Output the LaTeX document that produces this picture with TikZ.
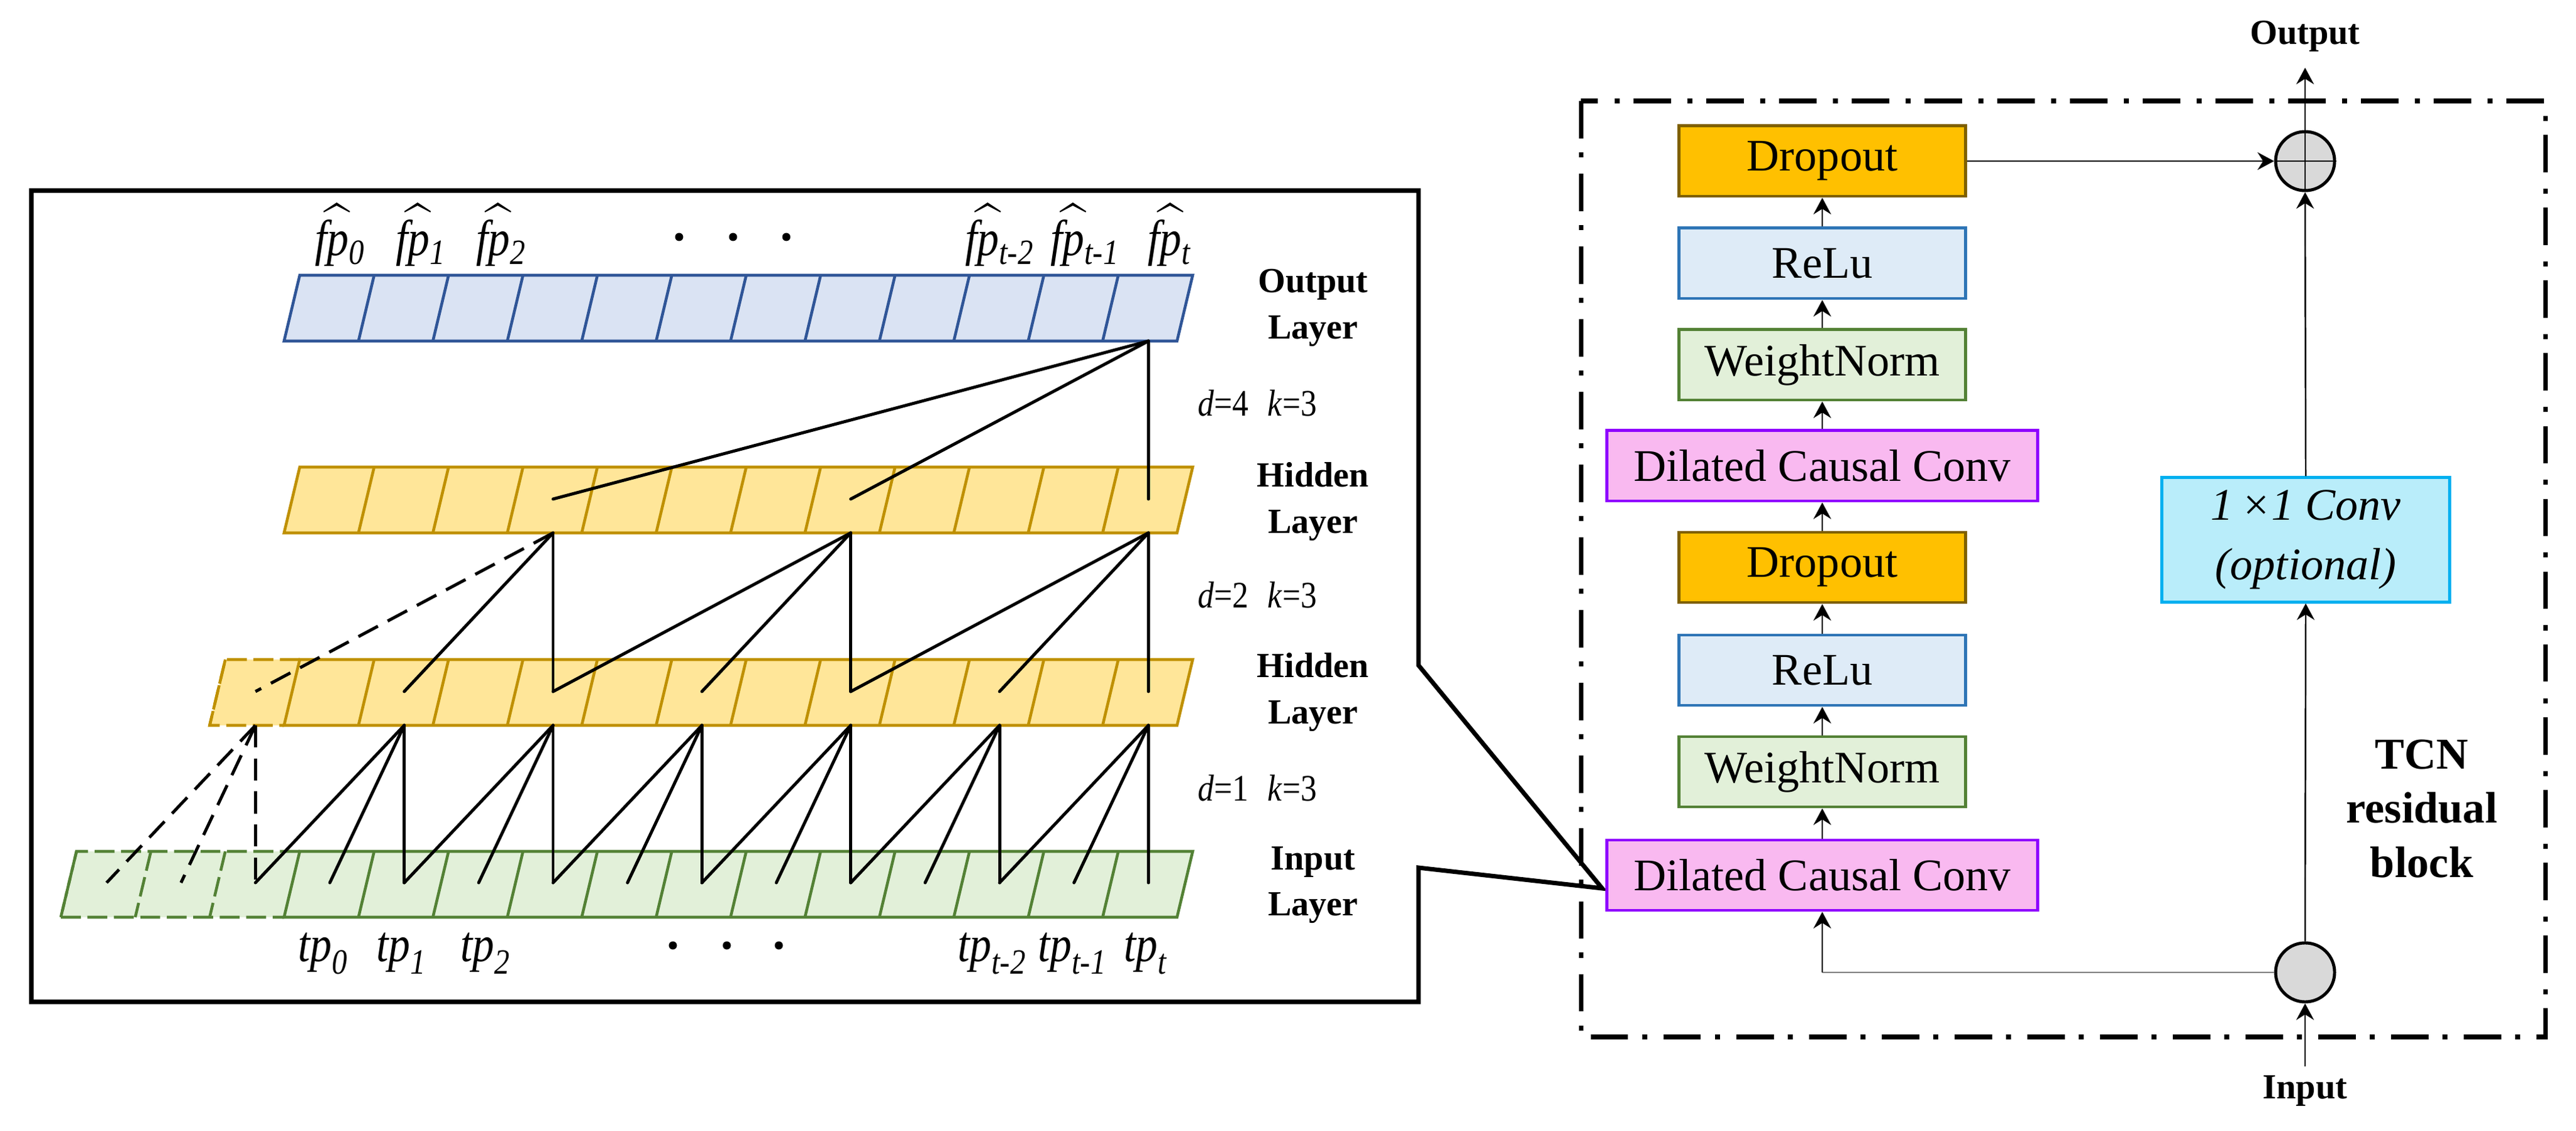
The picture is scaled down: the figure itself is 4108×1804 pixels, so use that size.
\documentclass[tikz,border=0pt]{standalone}
\usepackage{amsmath}
\usepackage{fontspec}
\setmainfont{Liberation Serif}
\usetikzlibrary{arrows.meta,calc}
\definecolor{outfill}{HTML}{DAE3F3}
\definecolor{outdraw}{HTML}{2F5597}
\definecolor{hidfill}{HTML}{FFE699}
\definecolor{hiddraw}{HTML}{BF9000}
\definecolor{infill}{HTML}{E2F0D9}
\definecolor{indraw}{HTML}{538135}
\definecolor{dropfill}{HTML}{FFC000}
\definecolor{dropdraw}{HTML}{7F6000}
\definecolor{relufill}{HTML}{DEEBF7}
\definecolor{reludraw}{HTML}{2E75B6}
\definecolor{wnfill}{HTML}{E2F0D9}
\definecolor{wndraw}{HTML}{538135}
\definecolor{dccfill}{HTML}{F9B9F0}
\definecolor{dccdraw}{HTML}{8F00FF}
\definecolor{convfill}{HTML}{B9EDFA}
\definecolor{convdraw}{HTML}{00B0F0}
\definecolor{circfill}{HTML}{D9D9D9}
\newcommand{\drawbar}[4]{%
  \filldraw[fill=#3,draw=#4,line width=1.3pt,line join=miter] (478,#1) -- (1902,#1) -- (1877,#2) -- (453,#2) -- cycle;
  \foreach \i in {1,...,11}{\draw[#4,line width=1.3pt] ({478+118.67*\i},#1) -- ({453+118.67*\i},#2);}%
}
\newcommand{\padcells}[5]{%
  \fill[#3] ({478-118.67*#5},#1) -- (478,#1) -- (453,#2) -- ({453-118.67*#5},#2) -- cycle;
  \draw[#4,line width=1.3pt,padline] (478,#1) -- ({478-118.67*#5},#1) -- ({453-118.67*#5},#2) -- (453,#2);
  \foreach \j in {1,...,#5}{\draw[#4,line width=1.3pt,padline] ({478-118.67*\j},#1) -- ({453-118.67*\j},#2);}%
}
\newcommand{\narrow}[1]{\scalebox{0.86}[1]{#1}}
\newcommand{\fphat}[1]{\narrow{$\widehat{\textit{fp}\kern0.25em}\kern-0.25em{}_{\textit{#1}}$}}
\begin{document}
\begin{tikzpicture}[x=0.01cm,y=-0.01cm,
  padline/.style={dash pattern=on 9pt off 3pt},
  conn/.style={line width=1.4pt,line cap=round},
  dconn/.style={line width=1.4pt,dash pattern=on 10pt off 5pt},
  blk/.style={draw,line width=1.4pt,minimum height=1.12cm,inner sep=0pt,font=\fontsize{20.5}{24}\selectfont},
  smallblk/.style={blk,minimum width=4.56cm},
  wideblk/.style={blk,minimum width=6.87cm},
  arr/.style={line width=0.7pt,-{Stealth[length=7.5pt,width=8pt,inset=2.5pt]}},
  layerlbl/.style={font=\bfseries\fontsize{16}{20.8}\selectfont,align=center},
  dklbl/.style={font=\fontsize{17}{20}\selectfont},
  seqlbl/.style={font=\fontsize{23}{26}\selectfont,anchor=base,inner sep=0pt},
  sumc/.style={circle,draw,fill=circfill,line width=1.4pt,minimum size=0.94cm,inner sep=0pt},
  ]
\useasboundingbox (0,0) rectangle (4108,1804);

% ---------- left panel frame with callout ----------
\draw[line width=2pt,line join=miter] (50,304) -- (2262,304) -- (2262,1061) -- (2555,1417) -- (2262,1384) -- (2262,1598) -- (50,1598) -- cycle;

% ---------- layers ----------
\drawbar{439}{544}{outfill}{outdraw}
\drawbar{745}{850}{hidfill}{hiddraw}
\padcells{1052}{1157}{hidfill}{hiddraw}{1}
\drawbar{1052}{1157}{hidfill}{hiddraw}
\padcells{1358}{1463}{infill}{indraw}{3}
\drawbar{1358}{1463}{infill}{indraw}

% ---------- attach points ----------
\foreach \i in {-3,...,11}{
  \coordinate (inM\i) at ({526+118.67*\i},1408);
  \coordinate (h1M\i) at ({526+118.67*\i},1103);
  \coordinate (h1B\i) at ({526+118.67*\i},1157);
  \coordinate (h2M\i) at ({526+118.67*\i},796);
  \coordinate (h2B\i) at ({526+118.67*\i},850);
  \coordinate (outB\i) at ({526+118.67*\i},544);
}

% ---------- connections ----------
\foreach \j in {11,7,3}{\draw[conn] (outB11) -- (h2M\j);}
\foreach \c/\a/\b in {7/5/3,11/9/7}{
  \draw[conn] (h2B\c) -- (h1M\c);
  \draw[conn] (h2B\c) -- (h1M\a);
  \draw[conn] (h2B\c) -- (h1M\b);
}
\draw[conn] (h2B3) -- (h1M3);
\draw[conn] (h2B3) -- (h1M1);
\draw[dconn] (h2B3) -- (h1M-1);
\foreach \c/\a/\b in {1/0/-1,3/2/1,5/4/3,7/6/5,9/8/7,11/10/9}{
  \draw[conn] (h1B\c) -- (inM\c);
  \draw[conn] (h1B\c) -- (inM\a);
  \draw[conn] (h1B\c) -- (inM\b);
}
\foreach \j in {-1,-2,-3}{\draw[dconn] (h1B-1) -- (inM\j);}

% ---------- sequence labels ----------
\node[seqlbl] (fp0) at (542,408) {\fphat{0}};
\node[seqlbl] (fp1) at (671,408) {\fphat{1}};
\node[seqlbl] (fp2) at (799,408) {\fphat{2}};
\node[seqlbl] (fpt2) at (1594,408) {\fphat{t-2}};
\node[seqlbl] (fpt1) at (1730,408) {\fphat{t-1}};
\node[seqlbl] (fpt) at (1865,408) {\fphat{t}};
\node[seqlbl] (tp0) at (515,1533) {\narrow{$\textit{tp}_{\textit{0}}$}};
\node[seqlbl] (tp1) at (640,1533) {\narrow{$\textit{tp}_{\textit{1}}$}};
\node[seqlbl] (tp2) at (774,1533) {\narrow{$\textit{tp}_{\textit{2}}$}};
\node[seqlbl] (tpt2) at (1582,1533) {\narrow{$\textit{tp}_{\textit{t-2}}$}};
\node[seqlbl] (tpt1) at (1710,1533) {\narrow{$\textit{tp}_{\textit{t-1}}$}};
\node[seqlbl] (tpt) at (1827,1533) {\narrow{$\textit{tp}_{\textit{t}}$}};
\foreach \x in {1083,1169,1254}{\fill (\x,378) circle (0.065cm);}
\foreach \x in {1073,1159,1242}{\fill (\x,1508) circle (0.065cm);}

% ---------- layer labels ----------
\node[layerlbl] (lout) at (2094,491) {Output\\Layer};
\node[layerlbl] (lh2) at (2094,800) {Hidden\\Layer};
\node[layerlbl] (lh1) at (2094,1104) {Hidden\\Layer};
\node[layerlbl] (lin) at (2094,1412) {Input\\Layer};
\node[dklbl] (dk4) at (2005,643) {\narrow{\textit{d}=4\hspace{0.6em}\textit{k}=3}};
\node[dklbl] (dk2) at (2005,949) {\narrow{\textit{d}=2\hspace{0.6em}\textit{k}=3}};
\node[dklbl] (dk1) at (2005,1257) {\narrow{\textit{d}=1\hspace{0.6em}\textit{k}=3}};

% ---------- residual block ----------
\draw[line width=2pt,dash pattern=on 17pt off 6.3pt on 2.3pt off 7.4pt] (2521,161) rectangle (4059,1654);
\node[smallblk,fill=dropfill,draw=dropdraw] (do1) at (2906,257) {Dropout};
\node[smallblk,fill=relufill,draw=reludraw] (re1) at (2906,420) {ReLu};
\node[smallblk,fill=wnfill,draw=wndraw] (wn1) at (2906,582) {WeightNorm};
\node[wideblk,fill=dccfill,draw=dccdraw] (dc1) at (2906,743) {Dilated Causal Conv};
\node[smallblk,fill=dropfill,draw=dropdraw] (do2) at (2906,905) {Dropout};
\node[smallblk,fill=relufill,draw=reludraw] (re2) at (2906,1069) {ReLu};
\node[smallblk,fill=wnfill,draw=wndraw] (wn2) at (2906,1231) {WeightNorm};
\node[wideblk,fill=dccfill,draw=dccdraw] (dc2) at (2906,1396) {Dilated Causal Conv};
\draw[arr] (dc2) -- (wn2);
\draw[arr] (wn2) -- (re2);
\draw[arr] (re2) -- (do2);
\draw[arr] (do2) -- (dc1);
\draw[arr] (dc1) -- (wn1);
\draw[arr] (wn1) -- (re1);
\draw[arr] (re1) -- (do1);

\node[sumc] (add) at (3676,257) {};
\draw[line width=0.7pt] (add.north) -- (add.south);
\draw[line width=0.7pt] (add.west) -- (add.east);
\node[sumc] (inc) at (3676,1551) {};
\node[blk,fill=convfill,draw=convdraw,minimum width=4.58cm,minimum height=1.98cm,align=center,font=\itshape\fontsize{20.5}{27}\selectfont] (conv) at (3677,861) {1\,×1 Conv\\(optional)};

\node[font=\bfseries\fontsize{16}{19}\selectfont] (outl) at (3676,58) {Output};
\node[font=\bfseries\fontsize{16}{19}\selectfont] (inl) at (3676,1740) {Input};
\node[font=\bfseries\fontsize{20}{24.5}\selectfont,align=center] (tcn) at (3862,1290) {TCN\\residual\\block};

\coordinate (outtip) at (3676,108);
\coordinate (instart) at (3676,1701);
\draw[arr] (add.north) -- (outtip);
\draw[arr] (instart) -- (inc.south);
\draw[arr] (inc.north) -- (conv.south);
\draw[arr] (conv.north) -- (add.south);
\draw[arr] (do1.east) -- (add.west);
\coordinate (turn) at (dc2.south |- inc.west);
\draw[gray,line width=0.7pt] (inc.west) -- (turn);
\draw[arr] (turn) -- (dc2.south);
\end{tikzpicture}
\end{document}
